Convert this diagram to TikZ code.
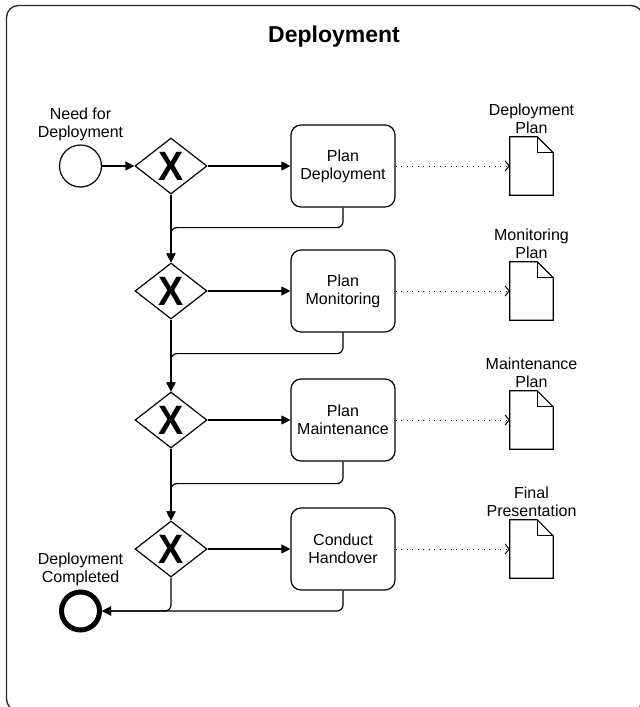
\documentclass[tikz,border=0pt]{standalone}
\usepackage{fontspec}
\setmainfont{Liberation Sans}
\usetikzlibrary{arrows.meta,shapes.geometric}

\begin{document}
\begin{tikzpicture}[x=1pt,y=-1pt,
  txt/.style={font=\fontsize{16}{18}\selectfont, align=center, inner sep=0pt},
  task/.style={draw, rounded corners=10pt, minimum width=104pt, minimum height=82pt,
    line width=1.2pt, txt},
  gate/.style={draw, diamond, minimum width=72pt, minimum height=56pt, inner sep=0pt,
    line width=1.2pt,
    label={[font=\fontsize{41}{41}\selectfont\bfseries, inner sep=0pt, xscale=0.92]center:X}},
  startev/.style={draw, circle, minimum size=42pt, inner sep=0pt, line width=1.2pt},
  endev/.style={draw, circle, minimum size=38pt, inner sep=0pt, line width=5pt},
  docbox/.style={rectangle, minimum width=43pt, minimum height=58pt, inner sep=0pt},
  docline/.style={line width=1.2pt, line join=miter},
  flow/.style={line width=1.2pt, rounded corners=6pt, -{Triangle[length=9pt,width=9pt]}},
  assoc/.style={line width=1pt, dash pattern=on 1pt off 4.5pt,
    -{Straight Barb[length=4pt,width=10pt]}},
]
  % canvas and outer frame (its right and bottom sides run past the page)
  \path[use as bounding box] (0,0) rectangle (640,707);
  \clip (0,0) rectangle (640,707);
  \draw[line width=1.3pt, draw=black!85, rounded corners=12pt] (6.5,5.5) rectangle (643,711);

  \node[font=\fontsize{23}{23}\selectfont\bfseries] (title) at (334,37) {Deployment};

  % events
  \node[startev] (s) at (80.5,166) {};
  \node[txt, anchor=south] (slbl) at ([yshift=3pt]s.north) {Need for\\Deployment};
  \node[endev] (e) at (80.5,611) {};
  \node[txt, anchor=south] (elbl) at ([yshift=3pt]e.north) {Deployment\\Completed};

  % gateways
  \node[gate] (g1) at (171,166) {};
  \node[gate] (g2) at (171,291) {};
  \node[gate] (g3) at (171,420) {};
  \node[gate] (g4) at (171,549) {};

  % tasks
  \node[task] (t1) at (343,166) {Plan\\Deployment};
  \node[task] (t2) at (343,291) {Plan\\Monitoring};
  \node[task] (t3) at (343,420) {Plan\\Maintenance};
  \node[task] (t4) at (343,549) {Conduct\\Handover};

  % data objects
  \node[docbox] (d1) at (531.5,166) {};
  \node[docbox] (d2) at (531.5,291) {};
  \node[docbox] (d3) at (531.5,420) {};
  \node[docbox] (d4) at (531.5,549) {};
  \foreach \d in {d1,d2,d3,d4}{
    \draw[docline] (\d.north west) -- ([xshift=-16pt]\d.north east)
      -- ([yshift=-16pt]\d.north east) -- (\d.south east) -- (\d.south west) -- cycle;
    \draw[docline] ([xshift=-16pt]\d.north east) -- ([xshift=-16pt,yshift=-16pt]\d.north east)
      -- ([yshift=-16pt]\d.north east);
  }
  \node[txt, anchor=south] (d1lbl) at ([yshift=3pt]d1.north) {Deployment\\Plan};
  \node[txt, anchor=south] (d2lbl) at ([yshift=3pt]d2.north) {Monitoring\\Plan};
  \node[txt, anchor=south] (d3lbl) at ([yshift=3pt]d3.north) {Maintenance\\Plan};
  \node[txt, anchor=south] (d4lbl) at ([yshift=3pt]d4.north) {Final\\Presentation};

  % sequence flows
  \draw[flow] (s) -- (g1);
  \draw[flow] (g1) -- (t1);
  \draw[flow] (g2) -- (t2);
  \draw[flow] (g3) -- (t3);
  \draw[flow] (g4) -- (t4);
  \draw[flow] (g1.south) -- (g2.north);
  \draw[flow] (g2.south) -- (g3.north);
  \draw[flow] (g3.south) -- (g4.north);
  \draw[flow] (t1.south) -- ++(0,20) -| (g2.north);
  \draw[flow] (t2.south) -- ++(0,21) -| (g3.north);
  \draw[flow] (t3.south) -- ++(0,22) -| (g4.north);
  \draw[flow] (g4.south) |- (e.east);
  \draw[flow] (t4.south) |- (e.east);

  % associations
  \draw[assoc] (t1) -- (d1);
  \draw[assoc] (t2) -- (d2);
  \draw[assoc] (t3) -- (d3);
  \draw[assoc] (t4) -- (d4);
\end{tikzpicture}
\end{document}
